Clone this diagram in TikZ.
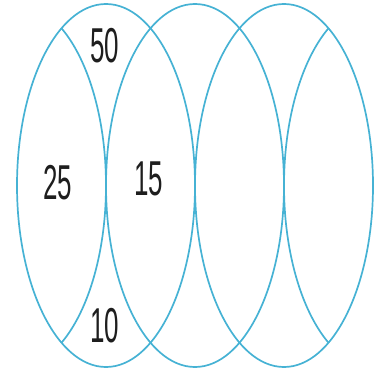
\documentclass[tikz,border=0pt]{standalone}
\usepackage{fontspec}
\setmainfont{Liberation Sans}
\definecolor{ringblue}{RGB}{70,178,212}
\definecolor{numgray}{RGB}{30,30,30}
\tikzset{
  ring/.style={draw=ringblue, line width=1.7pt},
  num/.style={text=numgray, xscale=0.53, inner sep=0pt,
    font=\fontsize{49}{49}\selectfont}
}
\begin{document}
\begin{tikzpicture}[x=1pt, y=-1pt]
        \useasboundingbox (0,0) rectangle (382,371);

        % drei Ellipsen
        \foreach \cx in {106, 195, 284} {
            \draw[ring] (\cx,185.5) ellipse [x radius=89, y radius=181.5];
        }

        % Bogen links, nur innerhalb der ersten Ellipse
        \begin{scope}
            \clip (106,185.5) ellipse [x radius=89, y radius=181.5];
            \draw[ring] (17,185.5) ellipse [x radius=89, y radius=181.5];
        \end{scope}

        % Bogen rechts, nur innerhalb der dritten Ellipse
        \begin{scope}
            \clip (284,185.5) ellipse [x radius=89, y radius=181.5];
            \draw[ring] (373,185.5) ellipse [x radius=89, y radius=181.5];
        \end{scope}

        % Zahlen
        \node[num] (top) at (105,46) {50};
        \node[num] (left) at (58,183) {25};
        \node[num] (mid) at (149,179) {15};
        \node[num] (bottom) at (105,326) {10};

    \end{tikzpicture}
\end{document}
